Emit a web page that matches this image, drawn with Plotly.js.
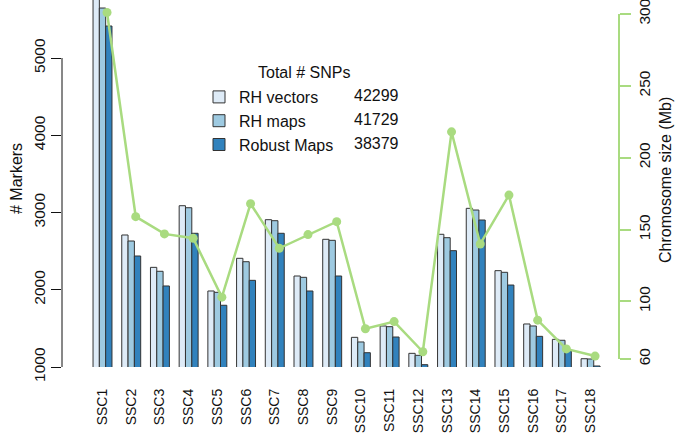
<!DOCTYPE html>
<html>
<head>
<meta charset="utf-8">
<script src="https://cdn.plot.ly/plotly-3.0.1.min.js"></script>
<style>html,body{margin:0;padding:0;background:#fff;}#chart{width:685px;height:437px;}</style>
</head>
<body>
<div id="chart"></div>
<script>
const categories = ['SSC1','SSC2','SSC3','SSC4','SSC5','SSC6','SSC7','SSC8','SSC9','SSC10','SSC11','SSC12','SSC13','SSC14','SSC15','SSC16','SSC17','SSC18'];
const rhVectors = [5900, 2709, 2290, 3088, 1984, 2407, 2907, 2178, 2653, 1384, 1531, 1177, 2718, 3054, 2247, 1557, 1358, 1107];
const rhMaps = [5647, 2631, 2239, 3062, 1967, 2363, 2894, 2161, 2640, 1324, 1522, 1151, 2674, 3032, 2226, 1531, 1346, 1104];
const robustMaps = [5414, 2437, 2049, 2731, 1799, 2122, 2731, 1984, 2178, 1185, 1388, 1030, 2506, 2903, 2061, 1397, 1220, 1013];
const chromSize = [301, 159, 147, 144, 103, 168, 137, 146.5, 155.5, 81, 86, 65, 218, 140, 174, 87, 67, 62];
const seriesNames = ['RH vectors', 'RH maps', 'Robust Maps'];
const seriesTotals = [42299, 41729, 38379];
const leftTicks = [1000, 2000, 3000, 4000, 5000];
const rightTicks = [60, 100, 150, 200, 250, 300];

const FONT = 'Liberation Sans, Arial, Helvetica, sans-serif';
const barColors = ['#DEEBF7', '#9ECAE1', '#3182BD'];
const green = '#a9db80';
const seriesValues = [rhVectors, rhMaps, robustMaps];

const traces = seriesValues.map((vals, i) => ({
  type: 'bar',
  x: categories,
  y: vals,
  name: seriesNames[i],
  marker: {color: barColors[i], line: {color: '#333333', width: 1}},
  xaxis: 'x', yaxis: 'y',
  hoverinfo: 'x+y+name'
}));

traces.push({
  type: 'scatter',
  mode: 'lines+markers',
  x: categories,
  y: chromSize,
  xaxis: 'x2', yaxis: 'y2',
  line: {color: green, width: 2.5},
  marker: {color: green, size: 9},
  showlegend: false,
  name: 'Chromosome size'
});

const ML = 62, MR = 66, MT = 0, MB = 70, W = 685, H = 437;
const PW = W - ML - MR, PH = H - MT - MB;
const px = v => (v - ML) / PW;
const py = v => 1 - (v - MT) / PH;

const legendRowY = [95.5, 119.3, 143.1];

const annotations = [
  {text: '# Markers', xref: 'paper', yref: 'paper', x: px(16), y: py(178), textangle: -90,
   showarrow: false, xanchor: 'center', yanchor: 'middle', font: {family: FONT, size: 16, color: '#111'}},
  {text: 'Chromosome size (Mb)', xref: 'paper', yref: 'paper', x: px(665), y: py(180), textangle: -90,
   showarrow: false, xanchor: 'center', yanchor: 'middle', font: {family: FONT, size: 16, color: '#111'}},
  {text: 'Total # SNPs', xref: 'paper', yref: 'paper', x: px(304), y: py(72),
   showarrow: false, xanchor: 'center', yanchor: 'middle', font: {family: FONT, size: 16, color: '#111'}}
];
seriesTotals.forEach((t, i) => annotations.push({
  text: String(t), xref: 'paper', yref: 'paper', x: px(401), y: py(legendRowY[i]),
  showarrow: false, xanchor: 'right', yanchor: 'middle', font: {family: FONT, size: 16, color: '#111'}
}));

const layout = {
  width: W, height: H,
  margin: {l: ML, r: MR, t: MT, b: MB, pad: 0},
  paper_bgcolor: '#ffffff', plot_bgcolor: '#ffffff',
  font: {family: FONT, color: '#111', size: 14},
  barmode: 'group',
  bargap: 0.34,
  bargroupgap: 0,
  xaxis: {
    type: 'category', categoryorder: 'array', categoryarray: categories,
    range: [-1.411, 17.99], showgrid: false, zeroline: false, showline: false,
    ticks: '', tickangle: -90, ticklabelstandoff: 18,
    tickfont: {family: FONT, size: 14, color: '#111'}
  },
  xaxis2: {
    type: 'category', categoryorder: 'array', categoryarray: categories,
    overlaying: 'x', range: [-1.568, 17.833], visible: false
  },
  yaxis: {
    range: [1000, 5751], tickvals: leftTicks, ticktext: leftTicks.map(String),
    showgrid: false, zeroline: false, showline: false,
    ticks: 'outside', ticklen: 10, tickwidth: 1, tickcolor: '#111',
    tickangle: -90, ticklabeloverflow: 'allow',
    tickfont: {family: FONT, size: 15.5, color: '#111'}
  },
  yaxis2: {
    overlaying: 'y', side: 'right', range: [54.4, 309.7],
    tickvals: rightTicks, ticktext: rightTicks.map(String),
    showgrid: false, zeroline: false, showline: false,
    ticks: 'outside', ticklen: 11, tickwidth: 2, tickcolor: green,
    tickangle: -90, ticklabeloverflow: 'allow',
    tickfont: {family: FONT, size: 15.5, color: '#111'}
  },
  legend: {
    x: px(199), y: py(80), xanchor: 'left', yanchor: 'top',
    bgcolor: 'rgba(0,0,0,0)', borderwidth: 0,
    font: {family: FONT, size: 16, color: '#111'},
    traceorder: 'normal', tracegroupgap: 0
  },
  shapes: [
    {type: 'line', xref: 'paper', yref: 'y', x0: 0, x1: 0, y0: leftTicks[0], y1: leftTicks[leftTicks.length - 1],
     line: {color: '#111', width: 1}},
    {type: 'line', xref: 'paper', yref: 'y2', x0: 1, x1: 1, y0: rightTicks[0], y1: rightTicks[rightTicks.length - 1],
     line: {color: green, width: 2}}
  ],
  annotations: annotations,
  showlegend: true
};

Plotly.newPlot('chart', traces, layout, {displayModeBar: false, staticPlot: true});
</script>
</body>
</html>
